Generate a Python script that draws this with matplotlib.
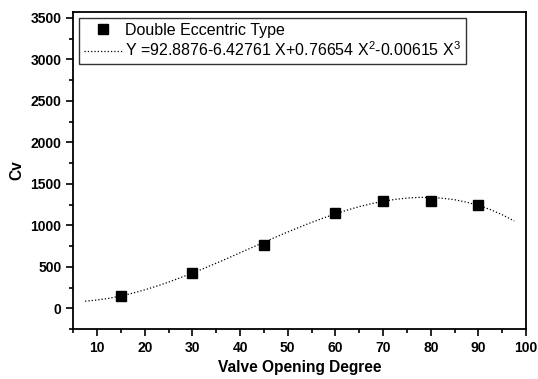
import matplotlib
matplotlib.use('Agg')
import matplotlib.pyplot as plt
from matplotlib.ticker import MultipleLocator

plt.rcParams['font.family'] = ['Liberation Sans', 'DejaVu Sans']
plt.rcParams['mathtext.fontset'] = 'custom'
plt.rcParams['mathtext.rm'] = 'Liberation Sans'
plt.rcParams['mathtext.it'] = 'Liberation Sans'

# measured points
opening = [15, 30, 45, 60, 70, 80, 90]
cv = [150, 420, 760, 1150, 1290, 1290, 1245]

# fitted curve
fit_x = [7.5, 10, 12.5, 15, 17.5, 20, 22.5, 25, 27.5, 30, 32.5, 35, 37.5, 40,
         42.5, 45, 47.5, 50, 52.5, 55, 57.5, 60, 62.5, 65, 67.5, 70, 72.5, 75,
         77.5, 80, 82.5, 85, 87.5, 90, 92.5, 95, 97.5]
fit_y = [85, 99, 120, 148, 182, 222, 266, 315, 368, 424, 482, 543, 605, 669,
         732, 795, 858, 919, 978, 1035, 1088, 1138, 1184, 1225, 1260, 1290,
         1312, 1328, 1336, 1336, 1326, 1308, 1279, 1240, 1189, 1127, 1052]

fit_label = 'Y =92.8876-6.42761 X+0.76654 X$^2$-0.00615 X$^3$'

fig = plt.figure(figsize=(5.38, 3.79), dpi=100)
ax = fig.add_axes([0.136, 0.132, 0.842, 0.836])

ax.plot(opening, cv, 's', color='black', markersize=7, label='Double Eccentric Type')
ax.plot(fit_x, fit_y, ':', color='black', linewidth=0.9, label=fit_label)

ax.set_xlim(5, 100)
ax.set_ylim(-250, 3570)
ax.xaxis.set_major_locator(MultipleLocator(10))
ax.xaxis.set_minor_locator(MultipleLocator(5))
ax.yaxis.set_major_locator(MultipleLocator(500))
ax.yaxis.set_minor_locator(MultipleLocator(250))
ax.tick_params(which='both', direction='out', top=False, right=False, width=1.2)
ax.tick_params(which='major', length=5, labelsize=10)
ax.tick_params(which='minor', length=3)
for lab in ax.get_xticklabels() + ax.get_yticklabels():
    lab.set_fontweight('bold')
for sp in ax.spines.values():
    sp.set_linewidth(1.3)

ax.set_xlabel('Valve Opening Degree', fontsize=11.2, fontweight='bold')
ax.set_ylabel('Cv', fontsize=11.2, fontweight='bold')

leg = ax.legend(loc='upper left', fontsize=11.5, frameon=True, fancybox=False,
                edgecolor='black', handlelength=2.4, borderaxespad=0.35,
                handletextpad=0.2, labelspacing=0.2, borderpad=0.3)
leg.get_frame().set_linewidth(1.0)

fig.savefig('out.png', dpi=100)
